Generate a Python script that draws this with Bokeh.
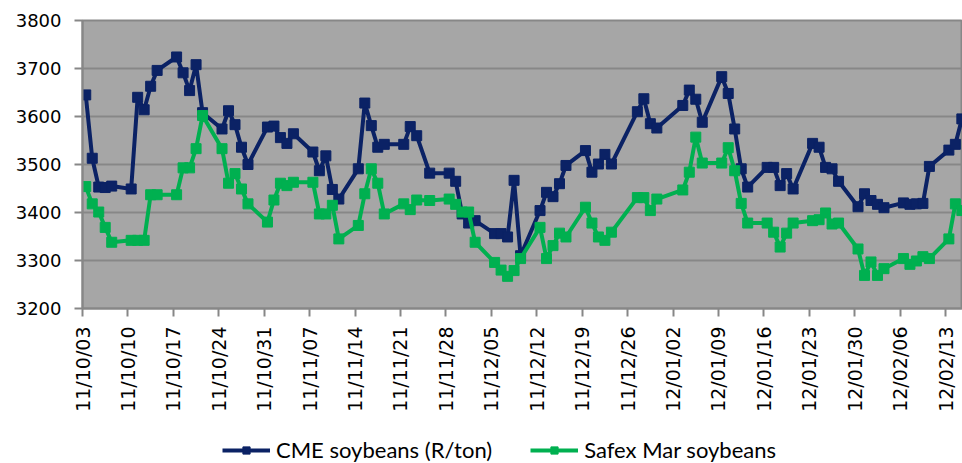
import numpy as np
import pandas as pd
from bokeh.plotting import figure
from bokeh.layouts import column
from bokeh.models import (Range1d, FixedTicker, DatetimeTickFormatter, Legend,
                          LegendItem, ColumnDataSource)
from bokeh.embed import file_html
from bokeh.resources import INLINE

# ---- data ----
dates = [
    "2011-10-03", "2011-10-04", "2011-10-05", "2011-10-06", "2011-10-07",
    "2011-10-10", "2011-10-11", "2011-10-12", "2011-10-13", "2011-10-14",
    "2011-10-17", "2011-10-18", "2011-10-19", "2011-10-20", "2011-10-21",
    "2011-10-24", "2011-10-25", "2011-10-26", "2011-10-27", "2011-10-28",
    "2011-10-31",
    "2011-11-01", "2011-11-02", "2011-11-03", "2011-11-04",
    "2011-11-07", "2011-11-08", "2011-11-09", "2011-11-10", "2011-11-11",
    "2011-11-14", "2011-11-15", "2011-11-16", "2011-11-17", "2011-11-18",
    "2011-11-21", "2011-11-22", "2011-11-23", "2011-11-25",
    "2011-11-28", "2011-11-29", "2011-11-30",
    "2011-12-01", "2011-12-02",
    "2011-12-05", "2011-12-06", "2011-12-07", "2011-12-08", "2011-12-09",
    "2011-12-12", "2011-12-13", "2011-12-14", "2011-12-15", "2011-12-16",
    "2011-12-19", "2011-12-20", "2011-12-21", "2011-12-22", "2011-12-23",
    "2011-12-27", "2011-12-28", "2011-12-29", "2011-12-30",
    "2012-01-03", "2012-01-04", "2012-01-05", "2012-01-06",
    "2012-01-09", "2012-01-10", "2012-01-11", "2012-01-12", "2012-01-13",
    "2012-01-16", "2012-01-17", "2012-01-18", "2012-01-19", "2012-01-20",
    "2012-01-23", "2012-01-24", "2012-01-25", "2012-01-26", "2012-01-27",
    "2012-01-30", "2012-01-31",
    "2012-02-01", "2012-02-02", "2012-02-03",
    "2012-02-06", "2012-02-07", "2012-02-08", "2012-02-09", "2012-02-10",
    "2012-02-13", "2012-02-14", "2012-02-15",
]

cme_soybeans = [
    3645, 3513, 3453, 3452, 3455, 3449, 3640, 3614, 3663, 3696,
    3724, 3691, 3654, 3708, 3608, 3574, 3612, 3583, 3536, 3500,
    3578,
    3580, 3556, 3544, 3564, 3526, 3487, 3518, 3448, 3428,
    3491, 3628, 3581, 3536, 3542, 3542, 3579, 3560, 3482,
    3482, 3465, 3397,
    3378, 3383, 3356, 3356, 3349, 3467, 3310,
    3404, 3442, 3433, 3460, 3498, 3529, 3484, 3501, 3521, 3501,
    3610, 3637, 3585, 3576,
    3623, 3655, 3636, 3588, 3683, 3648, 3574, 3491, 3453,
    3494, 3494, 3456, 3481, 3449, 3544, 3536, 3494, 3491, 3465,
    3412, 3439,
    3425, 3417, 3410, 3420, 3417, 3418, 3419, 3496,
    3530, 3542, 3595,
]

safex_mar_soybeans = [
    3454, 3418, 3401, 3369, 3338, 3342, 3342, 3342, 3437, 3437,
    3437, 3493, 3493, 3533, 3602, 3533, 3461, 3481, 3449, 3418,
    3380,
    3426, 3461, 3456, 3463, 3463, 3397, 3397, 3415, 3345,
    3373, 3439, 3491, 3461, 3397, 3418, 3406, 3426, 3425,
    3428, 3417, 3401,
    3401, 3338, 3296, 3280, 3267, 3279, 3304,
    3369, 3304, 3331, 3357, 3349, 3411, 3378, 3349, 3342, 3359,
    3431, 3431, 3404, 3428,
    3447, 3484, 3557, 3503, 3503, 3535, 3487, 3419, 3378,
    3378, 3359, 3328, 3357, 3378, 3383, 3385, 3399, 3376, 3378,
    3324, 3269,
    3297, 3269, 3283, 3304, 3292, 3299, 3308, 3304,
    3345, 3418, 3404,
]

tick_dates = [
    "2011-10-03", "2011-10-10", "2011-10-17", "2011-10-24", "2011-10-31",
    "2011-11-07", "2011-11-14", "2011-11-21", "2011-11-28", "2011-12-05",
    "2011-12-12", "2011-12-19", "2011-12-26", "2012-01-02", "2012-01-09",
    "2012-01-16", "2012-01-23", "2012-01-30", "2012-02-06", "2012-02-13",
]
y_ticks = [3200, 3300, 3400, 3500, 3600, 3700, 3800]

series_names = ["CME soybeans (R/ton)", "Safex Mar soybeans"]
NAVY = "#0B2265"
GREEN = "#00B050"

# ---- build ----
x = pd.to_datetime(dates) + pd.Timedelta(hours=12)
src = ColumnDataSource(dict(x=x, cme=cme_soybeans, safex=safex_mar_soybeans))

start = pd.Timestamp(tick_dates[0])
end = start + pd.Timedelta(days=135.6)

MAIN_H = 437
LEG_H = 26

p = figure(width=962, height=MAIN_H, x_axis_type="datetime",
           x_range=Range1d(start, end), y_range=Range1d(y_ticks[0], y_ticks[-1]),
           output_backend="svg", toolbar_location=None,
           min_border_left=82, min_border_right=0, min_border_top=20,
           min_border_bottom=MAIN_H - 308)

p.background_fill_color = "#A6A6A6"
p.border_fill_color = "white"
p.outline_line_color = "#878787"
p.outline_line_width = 2

def add_series(fig, col, color, visible=True):
    ln = fig.line("x", col, source=src, line_color=color, line_width=4,
                  visible=visible)
    sc = fig.scatter("x", col, source=src, marker="square", size=10,
                     fill_color=color, line_color=color, visible=visible)
    return [ln, sc]

add_series(p, "cme", NAVY)
add_series(p, "safex", GREEN)

# axes
tick_ms = [pd.Timestamp(d).value / 1e6 for d in tick_dates]
p.xaxis.ticker = FixedTicker(ticks=tick_ms)
fmt = "%y/%m/%d"
p.xaxis.formatter = DatetimeTickFormatter(
    milliseconds=fmt, seconds=fmt, minsec=fmt, minutes=fmt, hourmin=fmt,
    hours=fmt, days=fmt, months=fmt, years=fmt)
p.xaxis.major_label_orientation = np.pi / 2
p.yaxis.ticker = FixedTicker(ticks=y_ticks)

for ax in (p.xaxis, p.yaxis):
    ax.axis_line_color = "#878787"
    ax.axis_line_width = 2
    ax.major_tick_line_color = "#878787"
    ax.major_tick_line_width = 2
    ax.major_tick_out = 8
    ax.major_tick_in = 0
    ax.minor_tick_line_color = None
    ax.major_label_text_font = "DejaVu Sans"
    ax.major_label_text_color = "black"
    ax.major_label_standoff = 10

p.xaxis.major_label_text_font_size = "19px"
p.yaxis.major_label_text_font_size = "18px"
p.yaxis.major_label_standoff = 13

p.xgrid.grid_line_color = None
p.ygrid.grid_line_color = "#878787"
p.ygrid.grid_line_width = 2

# ---- legend strip (separate figure so the legend is not clipped) ----
lg = figure(width=962, height=LEG_H, output_backend="svg", toolbar_location=None,
            x_axis_location=None, y_axis_location=None,
            min_border_left=0, min_border_right=0, min_border_top=0,
            min_border_bottom=0, x_range=Range1d(0, 1), y_range=Range1d(0, 1))
lg.outline_line_color = None
lg.xgrid.grid_line_color = None
lg.ygrid.grid_line_color = None
lg.background_fill_color = "white"
leg_cme = add_series(lg, "cme", NAVY, visible=False)
leg_safex = add_series(lg, "safex", GREEN, visible=False)

legend = Legend(items=[
    LegendItem(label=series_names[0], renderers=leg_cme),
    LegendItem(label=series_names[1], renderers=leg_safex),
], orientation="horizontal", location=(140, 0))
legend.label_text_font = "Lato"
legend.label_text_font_size = "22px"
legend.label_text_color = "black"
legend.glyph_width = 48
legend.glyph_height = 18
legend.label_standoff = 6
legend.spacing = 38
legend.padding = 0
legend.margin = 0
legend.border_line_color = None
legend.background_fill_alpha = 0
lg.add_layout(legend)

layout = column(p, lg, spacing=0)
open("out.html", "w").write(file_html(layout, INLINE))
